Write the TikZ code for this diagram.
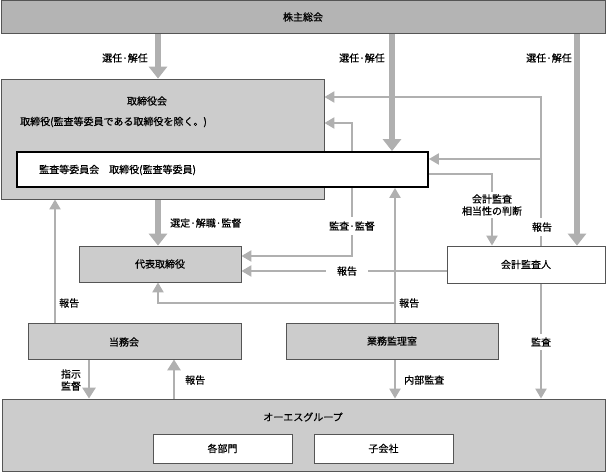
\documentclass[tikz,border=0pt]{standalone}
\usepackage{fontspec}
\newfontfamily\cjkjp[FakeBold=0.6]{Noto Sans CJK JP}
\newcommand\jpfont{\cjkjp\fontsize{10}{12}\selectfont}
\usetikzlibrary{arrows.meta}
\pgfdeclarelayer{bg}
\pgfsetlayers{bg,main}
\definecolor{boxline}{HTML}{555555}
\definecolor{fillA}{HTML}{B4B4B4}
\definecolor{fillB}{HTML}{CCCCCC}
\definecolor{arrc}{HTML}{B0B0B0}
\tikzset{
  box/.style={draw=boxline, line width=0.8pt, inner sep=0pt, font=\jpfont},
  darkbox/.style={box, fill=fillA},
  graybox/.style={box, fill=fillB},
  whitebox/.style={box, fill=white},
  lbl/.style={font=\jpfont, inner sep=1pt, align=center},
  gaplbl/.style={lbl, fill=white, inner xsep=1pt, inner ysep=4pt},
  bigarr/.style={draw=arrc, line width=6pt, -{Triangle[width=18pt,length=12pt]}},
  arr/.style={draw=arrc, line width=2.2pt, -{Triangle[width=11pt,length=10pt]}},
  medarr/.style={draw=arrc, line width=2.8pt, -{Triangle[width=13pt,length=11pt]}},
}
\begin{document}
\begin{tikzpicture}[x=1pt,y=-1pt]
\useasboundingbox (0,0) rectangle (608,473);
% boxes
\node[darkbox, minimum width=604pt, minimum height=33pt] (sh) at (303,17) {株主総会};
\node[graybox, minimum width=323pt, minimum height=120pt] (bod) at (162.5,139) {};
\node[lbl] (bodt) at (147,101) {取締役会};
\node[lbl, anchor=west] (bodl) at (19,122) {取締役(監査等委員である取締役を除く。)};
\node[whitebox, draw=black, line width=1.8pt, minimum width=411pt, minimum height=35pt] (ac) at (222.5,169.5) {};
\node[lbl, anchor=west] (acl) at (38,170) {監査等委員会　取締役(監査等委員)};
\node[graybox, minimum width=162pt, minimum height=36pt] (rep) at (160,264) {代表取締役};
\node[whitebox, minimum width=158pt, minimum height=37pt] (aud) at (526,264.5) {会計監査人};
\node[graybox, minimum width=213pt, minimum height=36pt] (jm) at (134.5,341) {};
\node[lbl] (jml) at (124,342) {当務会};
\node[graybox, minimum width=212pt, minimum height=36pt] (ia) at (392,341) {業務監理室};
\node[graybox, minimum width=603pt, minimum height=72pt] (grp) at (303.5,435) {};
\node[lbl] (grpl) at (303,417) {オーエスグループ};
\node[whitebox, minimum width=139pt, minimum height=29pt] (dept) at (222.5,448.5) {各部門};
\node[whitebox, minimum width=139pt, minimum height=29pt] (sub) at (383.5,448.5) {子会社};
% helper coordinates
\coordinate (x55) at (55,0);
\coordinate (x89) at (89,0);
\coordinate (x158) at (158,0);
\coordinate (x174) at (174,0);
\coordinate (x392) at (392,0);
\coordinate (x395) at (395,0);
\coordinate (x492) at (492,0);
\coordinate (x541) at (541,0);
\coordinate (x577) at (577,0);
\coordinate (k1) at (352,123);
\coordinate (k2) at (352,256);
\coordinate (r1) at (541,97);
\coordinate (r2) at (541,159);
\coordinate (c1) at (492,174);
\coordinate (h1) at (0,271);
\coordinate (b1) at (395,303);
\coordinate (b2) at (158,303);
\begin{pgfonlayer}{bg}
\draw[bigarr] (sh.south -| x158) -- (bod.north -| x158);
\draw[bigarr] (sh.south -| x392) -- (ac.north -| x392);
\draw[bigarr] (sh.south -| x577) -- (aud.north -| x577);
\draw[bigarr] (bod.south -| x158) -- (rep.north -| x158);
\draw[arr, {Triangle[width=11pt,length=10pt]}-{Triangle[width=11pt,length=10pt]}] (bod.east |- k1) -- (k1) -- (k2) -- (rep.east |- k2);
\draw[arr] (aud.north -| x541) -- (r1) -- (bod.east |- r1);
\draw[arr] (r2) -- (ac.east |- r2);
\draw[arr] (ac.east |- c1) -- (c1) -- (aud.north -| x492);
\draw[arr] (aud.west |- h1) -- (rep.east |- h1);
\draw[arr] (ia.north -| x395) -- (ac.south -| x395);
\draw[arr] (b1) -- (b2) -- (rep.south -| x158);
\draw[arr] (jm.north -| x55) -- (bod.south -| x55);
\draw[medarr] (jm.south -| x89) -- (grp.north -| x89);
\draw[medarr] (grp.north -| x174) -- (jm.south -| x174);
\draw[arr] (ia.south -| x395) -- (grp.north -| x395);
\draw[arr] (aud.south -| x541) -- (grp.north -| x541);
\end{pgfonlayer}
% labels
\node[lbl] (l1) at (125,58) {選任·解任};
\node[lbl] (l2) at (362,58) {選任·解任};
\node[lbl] (l3) at (549,58) {選任·解任};
\node[lbl, anchor=west] (l4) at (169,223) {選定·解職·監督};
\node[gaplbl] (l5) at (352,226) {監査·監督};
\node[gaplbl] (l6) at (542,227) {報告};
\node[gaplbl, inner ysep=2pt] (l7) at (492,205) {会計監査\\相当性の判断};
\node[gaplbl, inner xsep=11pt, inner ysep=1pt] (l8) at (347,271) {報告};
\node[lbl, anchor=west] (l9) at (398,303) {報告};
\node[lbl, anchor=west] (l10) at (58,303) {報告};
\node[lbl] (l11) at (71,380) {指示\\監督};
\node[lbl, anchor=west] (l12) at (184,380) {報告};
\node[lbl, anchor=west] (l13) at (403,380) {内部監査};
\node[gaplbl] (l14) at (541,342) {監査};
\end{tikzpicture}
\end{document}
